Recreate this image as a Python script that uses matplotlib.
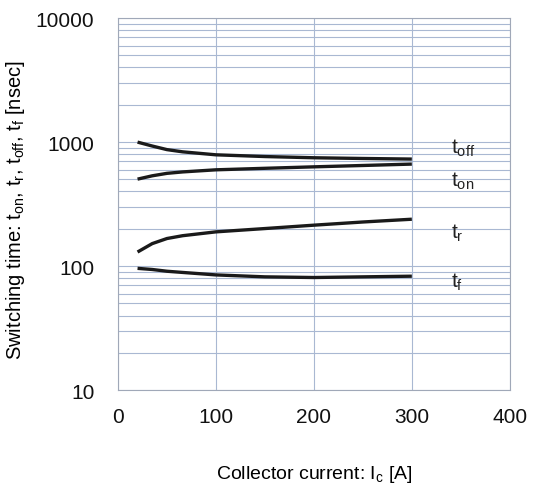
import numpy as np
import matplotlib
matplotlib.use("Agg")
import matplotlib.pyplot as plt

plt.rcParams['font.family'] = ['Liberation Sans', 'DejaVu Sans']
plt.rcParams['mathtext.fontset'] = 'custom'
plt.rcParams['mathtext.rm'] = 'Liberation Sans'
plt.rcParams['mathtext.it'] = 'Liberation Sans'

# collector current [A]
ic = [20, 35, 50, 66, 100, 150, 200, 250, 300]
# switching times [nsec]
t_off = [1000, 930, 870, 835, 790, 765, 748, 738, 730]
t_on = [503, 535, 560, 575, 598, 615, 632, 648, 665]
t_r = [130, 152, 167, 176, 189, 201, 214, 227, 239]
t_f = [96, 94, 91, 89, 85, 82, 81, 82, 83]

curve_labels = [r'$\mathrm{t_{off}}$', r'$\mathrm{t_{on}}$', r'$\mathrm{t_{r}}$', r'$\mathrm{t_{f}}$']
label_y = [900, 490, 186, 76]

fig = plt.figure(figsize=(5.59, 4.89), dpi=100)
ax = fig.add_axes([0.211, 0.2, 0.701, 0.761])

for y in (t_off, t_on, t_r, t_f):
    ax.plot(ic, y, color='#1a1a1a', lw=2.4, solid_capstyle='butt')

for lab, ly in zip(curve_labels, label_y):
    ax.text(340, ly, lab, fontsize=15, va='center', ha='left', color='#222222')

ax.set_yscale('log')
ax.set_xlim(0, 400)
ax.set_ylim(10, 10000)
ax.set_xticks([0, 100, 200, 300, 400])
ax.set_yticks([10, 100, 1000, 10000])
ax.set_yticklabels(['10', '100', '1000', '10000'])
ax.yaxis.set_minor_formatter(matplotlib.ticker.NullFormatter())

grid_c = '#a9b8d2'
ax.grid(True, which='major', axis='both', color=grid_c, lw=0.8)
ax.grid(True, which='minor', axis='y', color=grid_c, lw=0.8)
ax.tick_params(which='both', length=0, labelsize=15, colors='#111111')
ax.tick_params(axis='x', pad=12)
ax.tick_params(axis='y', pad=17)
for s in ax.spines.values():
    s.set_color('#a0a8b8')
    s.set_linewidth(0.8)

ax.set_ylabel(r'Switching time: $\mathrm{t_{on}}$, $\mathrm{t_{r}}$, $\mathrm{t_{off}}$, $\mathrm{t_{f}}$ [nsec]',
              fontsize=14.5)
ax.yaxis.set_label_coords(-0.232, 0.487)
ax.set_xlabel(r'Collector current: $\mathrm{I_{c}}$ [A]', fontsize=14, labelpad=27)

fig.savefig('out.png', dpi=100)
